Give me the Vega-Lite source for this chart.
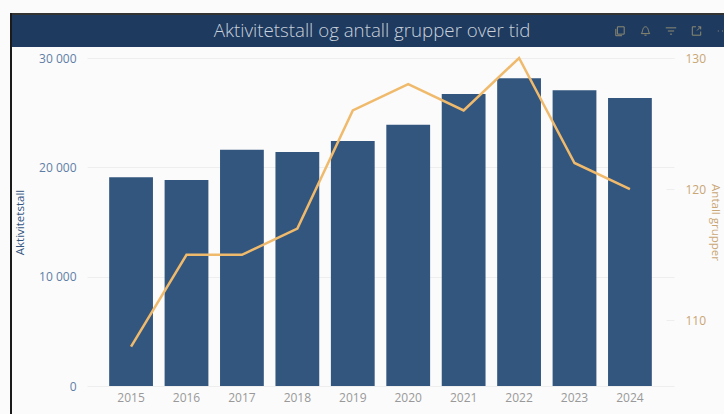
{
"$schema":"https://vega.github.io/schema/vega-lite/v6.json",
"background":"#fbfbfb",
"padding":{"left":10,"top":8,"right":0,"bottom":0},
"autosize":{"type":"pad"},
"config":{"font":"Open Sans","view":{"stroke":null}},
"spacing":0,"bounds":"flush",
"hconcat":[
{"width":2,"height":401,"view":{"fill":"#1a1a1a","stroke":null},"data":{"values":[{"t":""}]},"mark":{"type":"text"},"encoding":{"text":{"field":"t"}}},
{"spacing":0,"bounds":"flush","vconcat":[
{"width":712,"height":2,"view":{"fill":"#333333","stroke":null},"data":{"values":[{"t":""}]},"mark":{"type":"text"},"encoding":{"text":{"field":"t"}}},
{"width":712,"height":32,"view":{"fill":"#1e3a5f","stroke":null},
 "layer":[
 {"data":{"values":[{"t":"Aktivitetstall og antall grupper over tid"}]},
  "mark":{"type":"text","font":"Open Sans","fontWeight":300,"fontSize":18.7,"color":"#c9d1dc","dx":4},
  "encoding":{"text":{"field":"t"}}},
 {"data":{"values":[{"icon":"copy"},{"icon":"bell"},{"icon":"filter"},{"icon":"expand"},{"icon":"more"}]},
  "mark":{"type":"point","filled":false,"strokeWidth":1,"size":110,"color":"#8d8a72","opacity":1},
  "encoding":{
   "x":{"field":"icon","type":"nominal","axis":null,"sort":null,"scale":{"type":"point","padding":0,"domain":["copy","bell","filter","expand","more"],"range":[608,710]}},
   "shape":{"field":"icon","type":"nominal","legend":null,"scale":{"domain":["copy","bell","filter","expand","more"],"range":[
    "M-0.5,-0.8 H0.8 V0.6 H-0.5 Z M-0.8,-0.4 V0.9 H0.4",
    "M-0.8,0.5 C-0.5,0.2 -0.6,-0.8 0,-0.8 C0.6,-0.8 0.5,0.2 0.8,0.5 Z M-0.2,0.8 H0.2",
    "M-1,-0.6 H1 M-0.6,0 H0.6 M-0.2,0.6 H0.2",
    "M-0.1,-0.8 H-0.8 V0.8 H0.8 V0.1 M0.1,-0.1 L0.8,-0.8 M0.3,-0.8 H0.8 V-0.3",
    "M-0.8,0 h0.2 M0,0 h0.2 M0.8,0 h0.2"]}}
  }}
 ]},
{"width":712,"height":11,"data":{"values":[{"t":""}]},"mark":{"type":"text"},"encoding":{"text":{"field":"t"}}},
{"spacing":0,"bounds":"flush","hconcat":[
{"width":75,"height":328,"data":{"values":[{"t":""}]},"mark":{"type":"text"},"encoding":{"text":{"field":"t"}}},
{"width":587,"height":328,
 "data":{"values":[
 {"year":"2015","aktivitet":19100,"grupper":108},
 {"year":"2016","aktivitet":18850,"grupper":115},
 {"year":"2017","aktivitet":21600,"grupper":115},
 {"year":"2018","aktivitet":21400,"grupper":117},
 {"year":"2019","aktivitet":22400,"grupper":126},
 {"year":"2020","aktivitet":23900,"grupper":128},
 {"year":"2021","aktivitet":26700,"grupper":126},
 {"year":"2022","aktivitet":28150,"grupper":130},
 {"year":"2023","aktivitet":27050,"grupper":122},
 {"year":"2024","aktivitet":26350,"grupper":120}
 ]},
 "encoding":{"x":{"field":"year","type":"ordinal","title":null,"scale":{"paddingInner":0.21,"paddingOuter":0.4},
   "axis":{"labelAngle":0,"labelColor":"#999999","labelFontSize":12,"ticks":false,"domain":false,"labelPadding":6,"grid":false}}},
 "layer":[
 {"mark":{"type":"bar","color":"#33567f"},
  "encoding":{"y":{"field":"aktivitet","type":"quantitative","title":"Aktivitetstall","scale":{"domain":[0,30000],"nice":false},
    "axis":{"values":[0,10000,20000,30000],"labelExpr":"replace(format(datum.value,','),',',' ')","labelColor":"#5f7ea6","labelFontSize":12,"titleColor":"#34567f","titleFontSize":11.5,"titleFontWeight":"normal","ticks":false,"domain":false,"grid":true,"gridColor":"#eeeeee","labelPadding":11,"titlePadding":13}}}},
 {"mark":{"type":"line","color":"#f0ba6c","strokeWidth":2.5},
  "encoding":{"y":{"field":"grupper","type":"quantitative","title":"Antall grupper","scale":{"domain":[105,130],"nice":false,"zero":false},
    "axis":{"orient":"right","values":[110,120,130],"labelColor":"#c9a675","labelFontSize":12,"titleColor":"#c9a675","titleFontSize":11.5,"titleFontWeight":"normal","domain":false,"grid":false,"tickColor":"#eeeeee","tickSize":-8,"labelPadding":19,"titlePadding":4}}}}
 ],
 "resolve":{"scale":{"y":"independent"},"axis":{"y":"independent"}}
}
]}
]}
]}
